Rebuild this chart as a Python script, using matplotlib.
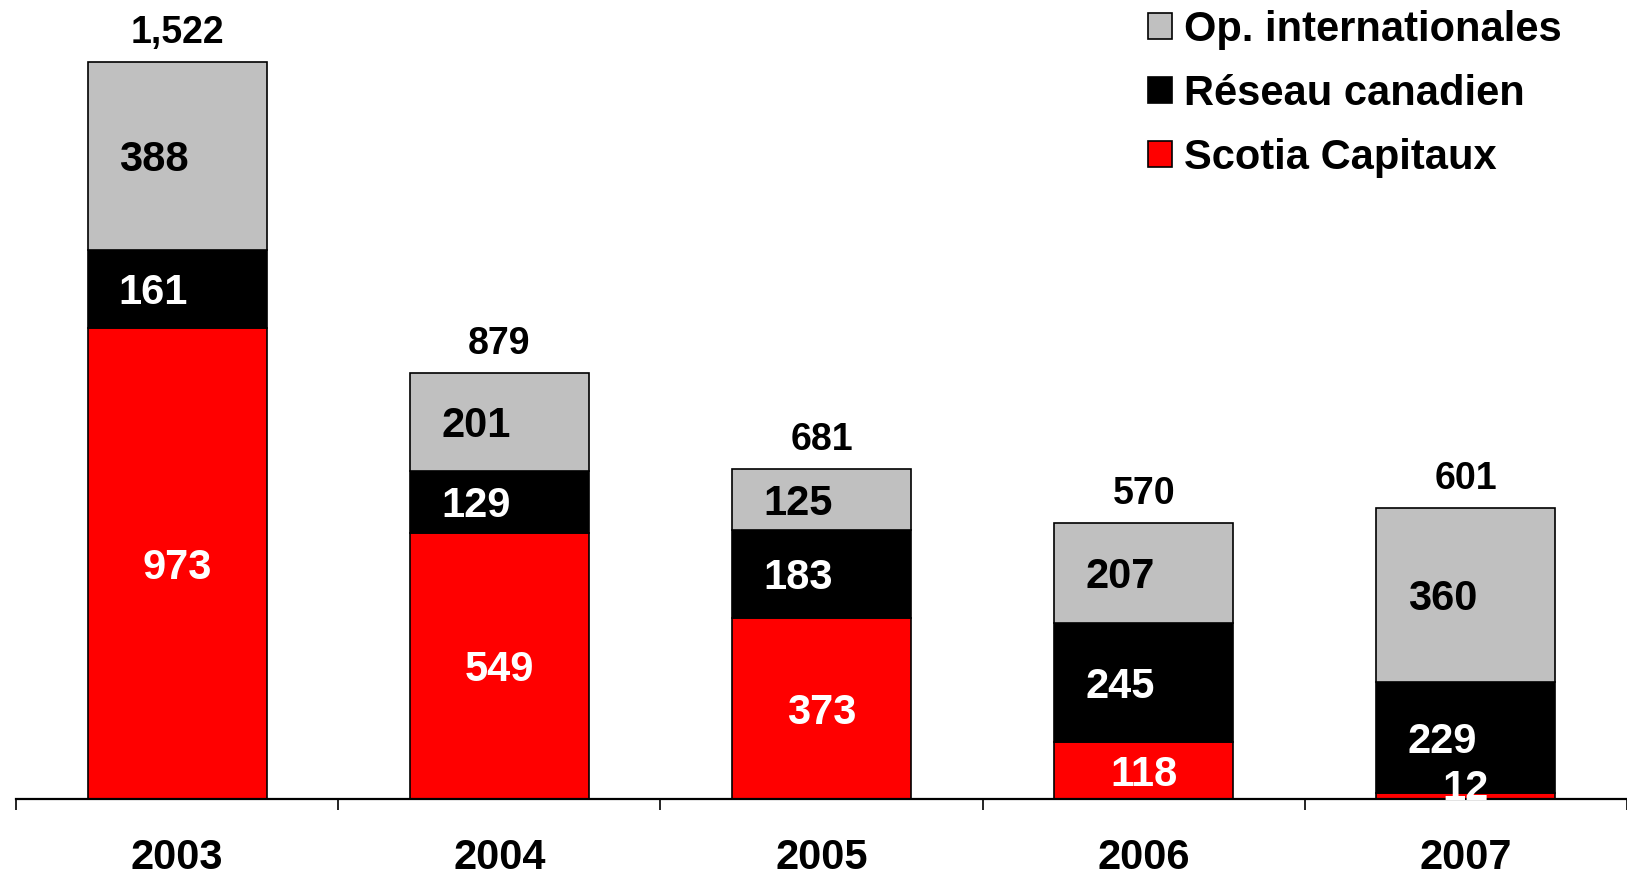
import matplotlib.pyplot as plt
from matplotlib.patches import Patch

years = ["2003", "2004", "2005", "2006", "2007"]
scotia = [973, 549, 373, 118, 12]
reseau = [161, 129, 183, 245, 229]
intl = [388, 201, 125, 207, 360]
totals = ["1,522", "879", "681", "570", "601"]

plt.rcParams["font.family"] = ["Liberation Sans", "DejaVu Sans"]
plt.rcParams["font.weight"] = "bold"

fig = plt.figure(figsize=(16.27, 8.77), dpi=100)
ax = fig.add_axes([16 / 1627, 0.0889, 1 - 16 / 1627, 1 - 0.0889])

x = list(range(len(years)))
w = 0.555
series = [
    (scotia, "#FF0000", "white", 0, "Scotia Capitaux"),
    (reseau, "#000000", "white", -17, "Réseau canadien"),
    (intl, "#C0C0C0", "black", -17, "Op. internationales"),
]

bottoms = [0] * len(years)
for vals, color, tcolor, dx, name in series:
    ax.bar(x, vals, w, bottom=bottoms, color=color, edgecolor="black", linewidth=1.2)
    for i, v in enumerate(vals):
        mid = bottoms[i] + v / 2
        dy = 5 if v < 40 else -3
        ax.annotate(str(v), (i, mid), xytext=(dx, dy), textcoords="offset points",
                    ha="center", va="center", fontsize=30, fontweight="bold", color=tcolor)
    bottoms = [b + v for b, v in zip(bottoms, vals)]

for i, t in enumerate(totals):
    ax.annotate(t, (i, bottoms[i]), xytext=(0, 8), textcoords="offset points",
                ha="center", va="bottom", fontsize=27, fontweight="bold")

ax.set_xlim(-0.5, 4.5)
ax.set_ylim(0, 1650)
for s in ["top", "right", "left"]:
    ax.spines[s].set_visible(False)
ax.spines["bottom"].set_linewidth(1.6)
ax.set_yticks([])
ax.set_xticks([i - 0.5 for i in range(len(years) + 1)])
ax.set_xticklabels([])
ax.tick_params(axis="x", which="major", direction="out", length=8, width=1.2)
ax.set_xticks(x, minor=True)
ax.set_xticklabels(years, minor=True, fontsize=30, fontweight="bold")
ax.tick_params(axis="x", which="minor", length=0, pad=28)

handles = [Patch(facecolor=c, edgecolor="black", linewidth=1.2) for _, c, _, _, _ in series][::-1]
labels = [n for _, _, _, _, n in series][::-1]
fig.legend(handles, labels, loc="upper left", bbox_to_anchor=(1131 / 1627, 1.008),
           frameon=False, handlelength=0.58, handleheight=0.58,
           handletextpad=0.3, labelspacing=0.58, borderaxespad=0,
           prop={"weight": "bold", "size": 30})

fig.savefig("out.png", dpi=100)
